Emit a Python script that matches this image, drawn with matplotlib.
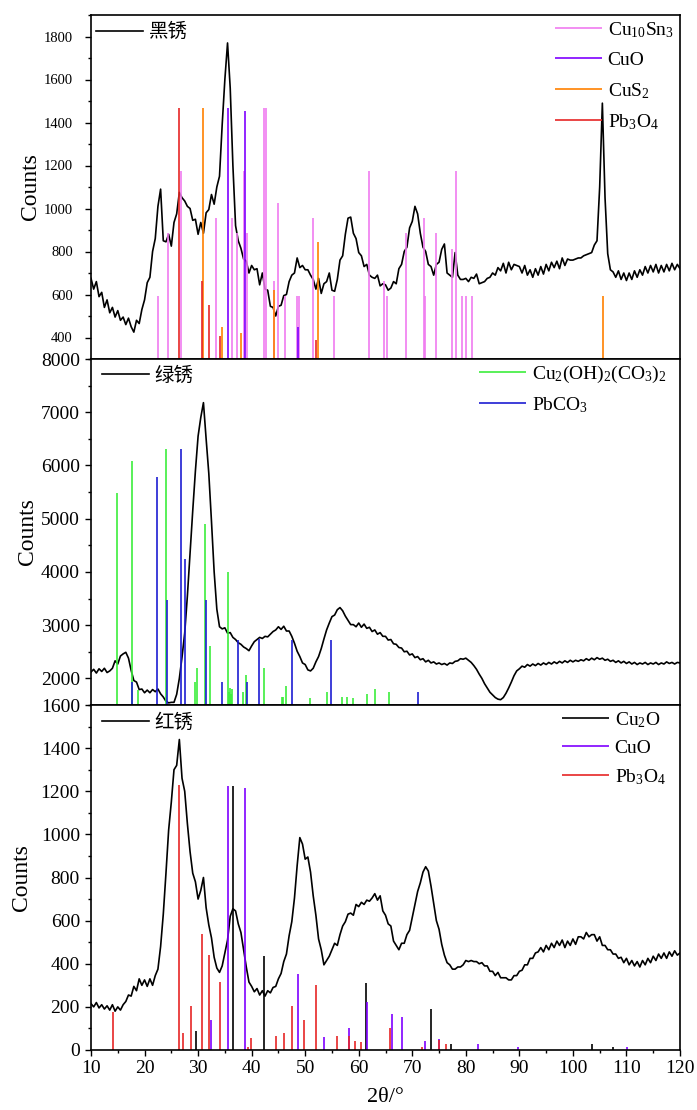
import numpy as np
import matplotlib
matplotlib.use('Agg')
import matplotlib.pyplot as plt
from matplotlib.ticker import MultipleLocator

plt.rcParams['font.family'] = ['Liberation Serif', 'Noto Sans CJK SC']
plt.rcParams['mathtext.fontset'] = 'custom'
plt.rcParams['mathtext.rm'] = 'Liberation Serif'
plt.rcParams['mathtext.it'] = 'Liberation Serif:italic'

# 2theta sampling (deg), one value every 0.5 deg
two_theta = np.arange(10, 120.01, 0.5)

# 黑锈 (black rust) counts
black_rust = [
    675, 625, 660, 590, 610, 540, 575, 515, 540, 495,
    525, 480, 495, 460, 490, 450, 425, 480, 465, 530,
    575, 655, 680, 800, 860, 1010, 1090, 850, 845, 880,
    825, 935, 975, 1075, 1050, 1035, 1010, 1000, 945, 950,
    880, 935, 885, 980, 995, 1065, 1020, 1100, 1150, 1390,
    1600, 1770, 1560, 1200, 920, 850, 815, 765, 755, 700,
    735, 715, 720, 645, 700, 625, 620, 545, 540, 500,
    545, 550, 595, 600, 660, 690, 700, 770, 725, 735,
    715, 715, 690, 670, 625, 675, 605, 650, 660, 700,
    620, 615, 670, 760, 780, 880, 955, 960, 885, 860,
    795, 780, 730, 740, 690, 680, 675, 690, 640, 650,
    645, 620, 630, 660, 650, 720, 740, 800, 820, 910,
    940, 1010, 975, 885, 820, 800, 740, 730, 690, 740,
    750, 810, 835, 700, 690, 680, 795, 690, 670, 670,
    675, 660, 680, 675, 695, 650, 655, 660, 675, 680,
    700, 690, 725, 710, 745, 700, 750, 715, 740, 735,
    730, 700, 735, 690, 715, 680, 720, 690, 730, 695,
    740, 710, 750, 725, 755, 720, 770, 735, 765, 760,
    760, 765, 770, 770, 780, 785, 790, 795, 830, 850,
    1100, 1490, 1050, 790, 715, 705, 680, 710, 670, 700,
    665, 700, 670, 710, 680, 715, 690, 730, 700, 735,
    705, 740, 700, 735, 705, 740, 710, 745, 715, 740,
    720]

# 绿锈 (green rust) counts
green_rust = [
    2120, 2170, 2100, 2180, 2130, 2190, 2110, 2140, 2190, 2330,
    2270, 2420, 2460, 2490, 2380, 2150, 1960, 1930, 1790, 1800,
    1730, 1780, 1730, 1790, 1750, 1800, 1710, 1650, 1570, 1540,
    1550, 1550, 1700, 2000, 2400, 2850, 3550, 4350, 5150, 5900,
    6550, 6900, 7180, 6500, 5850, 4950, 4000, 3300, 2970, 2930,
    2950, 2850, 2860, 2770, 2730, 2670, 2640, 2590, 2560, 2520,
    2610, 2690, 2730, 2770, 2750, 2790, 2780, 2830, 2880, 2910,
    2970, 2920, 2980, 2890, 2890, 2790, 2660, 2510, 2410, 2290,
    2260, 2160, 2140, 2190, 2310, 2410, 2560, 2740, 2910, 3040,
    3160, 3190, 3290, 3330, 3270, 3170, 3090, 3010, 3010, 2970,
    3040, 2960, 3020, 2940, 2960, 2880, 2910, 2830, 2860, 2790,
    2790, 2720, 2730, 2650, 2640, 2580, 2570, 2500, 2510, 2440,
    2460, 2390, 2410, 2350, 2370, 2310, 2340, 2290, 2310, 2270,
    2290, 2260, 2280, 2250, 2290, 2280, 2320, 2330, 2370, 2360,
    2380, 2340, 2300, 2240, 2170, 2080, 2000, 1900, 1820, 1740,
    1690, 1640, 1610, 1600, 1640, 1720, 1820, 1930, 2050, 2140,
    2180, 2230, 2210, 2260, 2230, 2270, 2240, 2280, 2250, 2290,
    2260, 2300, 2270, 2310, 2280, 2320, 2290, 2330, 2300, 2340,
    2310, 2340, 2320, 2350, 2330, 2370, 2340, 2380, 2350, 2390,
    2360, 2380, 2340, 2360, 2320, 2340, 2300, 2330, 2290, 2320,
    2280, 2310, 2270, 2300, 2260, 2290, 2270, 2300, 2260, 2290,
    2270, 2300, 2260, 2290, 2270, 2310, 2280, 2300, 2270, 2300,
    2290]

# 红锈 (red rust) counts
red_rust = [
    215, 200, 220, 195, 210, 190, 205, 185, 210, 180,
    200, 185, 210, 225, 255, 250, 295, 275, 330, 300,
    325, 295, 330, 300, 345, 375, 480, 630, 820, 1020,
    1150, 1300, 1320, 1440, 1260, 1200, 1050, 920, 820, 780,
    700, 740, 800, 660, 580, 520, 430, 380, 360, 390,
    450, 510, 620, 655, 645, 585, 545, 465, 385, 315,
    295, 270, 285, 255, 275, 250, 275, 265, 290, 295,
    330, 355, 410, 445, 530, 595, 705, 855, 985, 955,
    885, 895, 825, 715, 625, 515, 465, 395, 415, 435,
    465, 495, 485, 535, 575, 595, 630, 635, 625, 675,
    665, 685, 675, 695, 690, 705, 725, 695, 715, 645,
    625, 585, 575, 505, 485, 465, 495, 495, 535, 555,
    615, 675, 735, 775, 825, 850, 830, 760, 680, 600,
    560, 490, 440, 405, 395, 375, 375, 385, 385, 395,
    415, 410, 415, 410, 410, 400, 405, 390, 390, 365,
    365, 345, 360, 335, 335, 335, 325, 325, 345, 345,
    365, 370, 395, 395, 425, 425, 450, 455, 475, 455,
    485, 465, 495, 475, 505, 485, 510, 475, 505, 485,
    515, 490, 525, 525, 515, 545, 525, 535, 535, 505,
    525, 485, 485, 465, 465, 445, 445, 425, 430, 405,
    425, 395, 415, 390, 410, 385, 415, 395, 425, 405,
    435, 415, 445, 425, 450, 425, 455, 435, 460, 440,
    450]

# reference patterns, panel 1
cu10sn3_pos = [22.6, 24.3, 26.75, 33.4, 36.35, 37.2, 38.6, 39.15, 42.4, 42.7,
               44.2, 44.85, 46.25, 48.5, 48.9, 51.5, 55.4, 61.9, 64.7, 65.3,
               68.9, 72.2, 72.4, 74.5, 77.35, 78.15, 79.3, 80.0, 81.2]
cu10sn3_int = [595, 887, 1174, 956, 956, 887, 1174, 887, 1466, 1466,
               664, 1027, 592, 595, 595, 956, 595, 1174, 661, 595,
               887, 956, 595, 887, 811, 1174, 595, 595, 595]
cuo1_pos = [35.55, 38.75, 48.7]
cuo1_int = [1466, 1452, 451]
cus2_pos = [30.85, 34.5, 38.0, 44.2, 52.35, 105.6]
cus2_int = [1466, 451, 420, 622, 842, 595]
pb3o4_1_pos = [26.45, 30.75, 32.05, 34.05, 51.95]
pb3o4_1_int = [1466, 664, 550, 405, 390]

# panel 2
malachite_pos = [14.8, 17.6, 18.8, 24.1, 29.5, 29.85, 31.3, 32.2, 35.6, 35.8,
                 36.0, 36.2, 36.4, 38.3, 38.9, 42.3, 45.6, 45.9, 46.5, 50.9,
                 54.1, 56.8, 57.9, 59.0, 61.5, 63.0, 65.7]
malachite_int = [5480, 6090, 1780, 6300, 1940, 2190, 4900, 2610, 3990, 1750,
                 1820, 1700, 1800, 1745, 2060, 2190, 1650, 1650, 1860, 1630,
                 1745, 1650, 1650, 1630, 1700, 1800, 1740]
pbco3_pos = [17.7, 22.4, 24.25, 26.75, 27.6, 31.5, 34.5, 37.4, 39.1, 41.4, 47.5, 54.8, 71.0]
pbco3_int = [1940, 5780, 3475, 6300, 4240, 3475, 1940, 2725, 1940, 2735, 2716, 2716, 1750]

# panel 3
cu2o_pos = [29.6, 36.45, 42.3, 61.3, 73.5, 77.2, 103.6, 107.4]
cu2o_int = [88, 1224, 437, 312, 189, 28, 28, 14]
cuo3_pos = [32.5, 35.5, 38.7, 48.7, 53.5, 58.25, 61.5, 66.2, 68.1, 72.4, 75.0, 82.3, 89.7, 110.05]
cuo3_int = [139, 1225, 1213, 352, 62, 100, 224, 165, 151, 42, 51, 28, 14, 14]
pb3o4_3_pos = [14.17, 26.4, 27.1, 28.7, 30.7, 32.0, 34.1, 39.3, 39.9, 44.55, 46.0,
               47.5, 49.8, 52.1, 55.9, 58.1, 59.3, 60.4, 65.85, 71.9, 75.05, 76.3]
pb3o4_3_int = [178, 1229, 78, 204, 538, 439, 314, 15, 54, 65, 78,
               204, 139, 301, 65, 65, 42, 39, 100, 15, 46, 28]

c_cusn = '#F07CF0'
c_cuo = '#7F00FF'
c_cus2 = '#FF8000'
c_pb3o4 = '#E62626'
c_mal = '#3CEE3C'
c_pbco3 = '#1E1ED2'

fig = plt.figure(figsize=(6.97, 11.10), dpi=100)
L, W = 91/697, 589/697
ax1 = fig.add_axes([L, 1-359/1110, W, 344/1110])
ax2 = fig.add_axes([L, 1-705/1110, W, 346/1110])
ax3 = fig.add_axes([L, 1-1050/1110, W, 345/1110])

slw = 1.2


def sticks(ax, pos, inten, color, label):
    return ax.vlines(pos, 0, inten, colors=color, linewidth=slw, label=label)


def style(ax, ymin, ymax, ticks, minor, tsize, pad):
    ax.set_xlim(10, 120)
    ax.set_ylim(ymin, ymax)
    ax.set_yticks(ticks)
    ax.yaxis.set_minor_locator(MultipleLocator(minor))
    ax.xaxis.set_major_locator(MultipleLocator(10))
    ax.xaxis.set_minor_locator(MultipleLocator(5))
    ax.tick_params(which='both', direction='out', width=1.0)
    ax.tick_params(which='major', length=4)
    ax.tick_params(which='minor', length=2.2)
    ax.tick_params(axis='y', labelsize=tsize, pad=pad)
    for s in ax.spines.values():
        s.set_linewidth(1.2)
    ax.set_ylabel('Counts', fontsize=17)


def legends(ax, curve, name, x0, y0, handles, x1, spacing):
    lg = ax.legend([curve], [name], loc='center left', bbox_to_anchor=(x0, y0),
                   frameon=False, fontsize=14, handlelength=2.4, handletextpad=0.3,
                   borderpad=0, borderaxespad=0)
    ax.add_artist(lg)
    ax.legend(handles=handles, loc='upper left', bbox_to_anchor=(x1, 0.985),
              frameon=False, fontsize=14, handlelength=2.4, handletextpad=0.3,
              borderpad=0, borderaxespad=0, labelspacing=spacing)


# panel 1
l1, = ax1.plot(two_theta, black_rust, color='black', lw=1.2)
h = [sticks(ax1, cu10sn3_pos, cu10sn3_int, c_cusn, r'Cu$_{10}$Sn$_{3}$'),
     sticks(ax1, cuo1_pos, cuo1_int, c_cuo, 'CuO'),
     sticks(ax1, cus2_pos, cus2_int, c_cus2, r'CuS$_{2}$'),
     sticks(ax1, pb3o4_1_pos, pb3o4_1_int, c_pb3o4, r'Pb$_{3}$O$_{4}$')]
style(ax1, 300, 1900, range(400, 1801, 200), 100, 10.5, 9)
ax1.yaxis.set_label_coords(-0.085, 0.5)
ax1.tick_params(axis='x', which='both', bottom=False, labelbottom=False)
legends(ax1, l1, '黑锈', 0.0085, 0.95, h, 0.788, 0.6)

# panel 2
l2, = ax2.plot(two_theta, green_rust, color='black', lw=1.2)
h = [sticks(ax2, malachite_pos, malachite_int, c_mal, r'Cu$_{2}$(OH)$_{2}$(CO$_{3}$)$_{2}$'),
     sticks(ax2, pbco3_pos, pbco3_int, c_pbco3, r'PbCO$_{3}$')]
style(ax2, 1500, 8000, range(2000, 8001, 1000), 500, 14, 4)
ax2.yaxis.set_label_coords(-0.09, 0.5)
ax2.tick_params(axis='x', which='both', bottom=False, labelbottom=False)
legends(ax2, l2, '绿锈', 0.0187, 0.951, h, 0.659, 0.5)

# panel 3
l3, = ax3.plot(two_theta, red_rust, color='black', lw=1.2)
h = [sticks(ax3, cu2o_pos, cu2o_int, 'black', r'Cu$_{2}$O'),
     sticks(ax3, cuo3_pos, cuo3_int, c_cuo, 'CuO'),
     sticks(ax3, pb3o4_3_pos, pb3o4_3_int, c_pb3o4, r'Pb$_{3}$O$_{4}$')]
style(ax3, 0, 1600, range(0, 1601, 200), 100, 14, 4)
ax3.yaxis.set_label_coords(-0.1, 0.5)
ax3.tick_params(axis='x', labelsize=14, pad=3)
ax3.set_xlabel('2θ/°', fontsize=16, labelpad=8)
legends(ax3, l3, '红锈', 0.0187, 0.948, h, 0.80, 0.5)

fig.savefig('out.png', dpi=100)
